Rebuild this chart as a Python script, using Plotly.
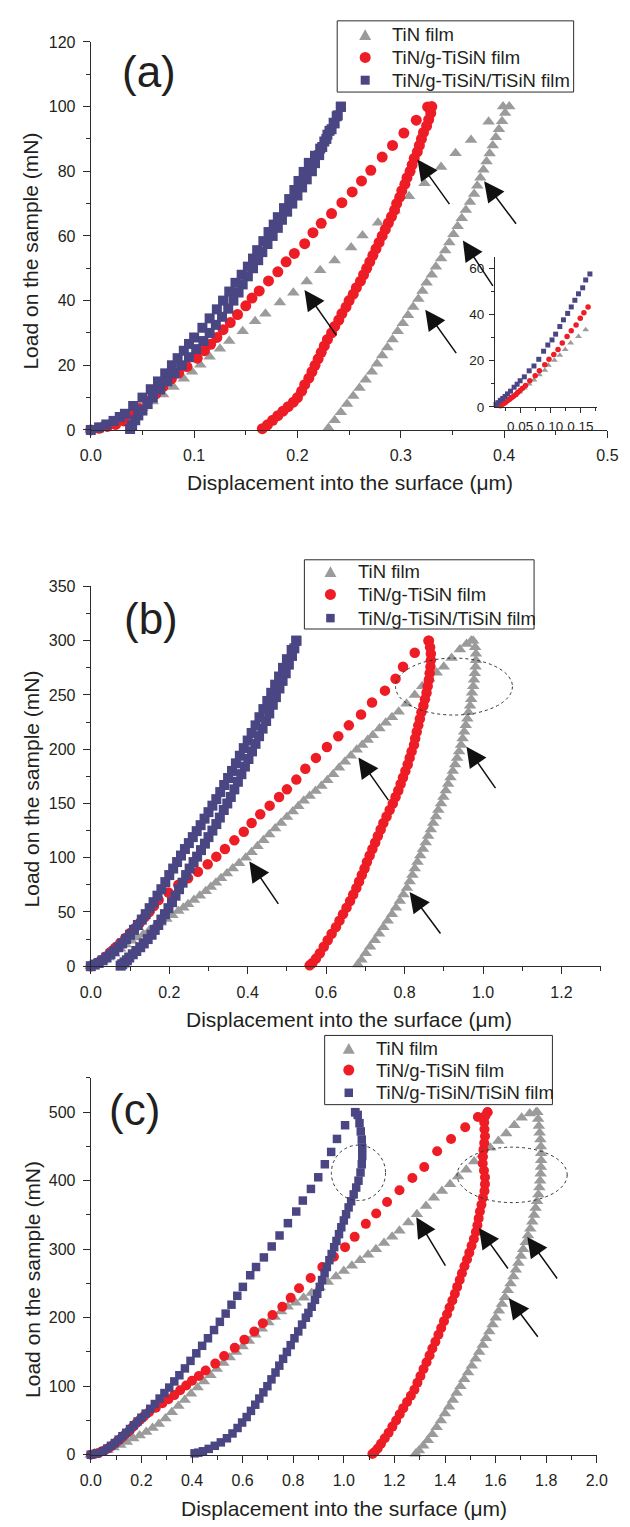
import plotly.graph_objects as go

# ---------------------------------------------------------------
# Load–displacement data (displacement in µm, load in mN)
# ---------------------------------------------------------------

# (a) 100 mN
A_TIN_LOAD = [(0.000, 0.0), (0.010, 1.0), (0.020, 2.2), (0.030, 3.6), (0.040, 5.1), (0.050, 6.8),
              (0.060, 8.8), (0.070, 11.0), (0.080, 13.3), (0.090, 15.8), (0.098, 18.0), (0.106, 20.2),
              (0.115, 22.6), (0.125, 25.1), (0.134, 27.5), (0.147, 30.5), (0.159, 33.6), (0.169, 35.9),
              (0.183, 39.4), (0.196, 42.4), (0.209, 45.9), (0.222, 49.4), (0.236, 52.4), (0.252, 56.4),
              (0.263, 60.1), (0.278, 64.1), (0.294, 67.8), (0.308, 72.3), (0.323, 76.3), (0.339, 81.3),
              (0.353, 85.6), (0.368, 89.7), (0.385, 95.3), (0.399, 100.0)]
A_TIN_UNLOAD = [(0.405, 100.0), (0.401, 98.0), (0.398, 95.5), (0.395, 93.0), (0.392, 90.5), (0.389, 88.0),
                (0.386, 85.5), (0.383, 83.0), (0.380, 80.5), (0.377, 78.0), (0.374, 75.5), (0.371, 73.0),
                (0.367, 70.5), (0.363, 68.0), (0.359, 65.5), (0.355, 63.0), (0.351, 60.5), (0.347, 58.0),
                (0.343, 55.5), (0.339, 53.0), (0.334, 50.5), (0.330, 48.0), (0.325, 45.5), (0.321, 43.0),
                (0.317, 40.5), (0.312, 38.0), (0.307, 35.5), (0.302, 33.0), (0.297, 30.5), (0.292, 28.0),
                (0.287, 25.5), (0.282, 23.0), (0.277, 20.5), (0.272, 18.0), (0.266, 15.5), (0.260, 13.0),
                (0.254, 10.5), (0.248, 8.0), (0.242, 5.5), (0.236, 3.0), (0.230, 0.6)]
A_RED_LOAD = [(0.000, 0.0), (0.008, 0.5), (0.016, 1.1), (0.024, 1.7), (0.032, 2.8), (0.040, 4.6),
              (0.047, 6.6), (0.055, 8.9), (0.063, 11.2), (0.070, 13.4), (0.078, 15.8), (0.085, 17.6),
              (0.093, 19.6), (0.103, 22.2), (0.110, 24.5), (0.116, 26.5), (0.122, 28.6), (0.128, 31.0),
              (0.135, 33.2), (0.142, 35.7), (0.150, 38.4), (0.156, 40.8), (0.163, 43.0), (0.172, 46.1),
              (0.181, 48.9), (0.189, 52.0), (0.197, 54.6), (0.207, 57.6), (0.215, 61.0), (0.223, 63.9),
              (0.233, 66.9), (0.243, 70.3), (0.253, 73.6), (0.262, 77.0), (0.271, 80.3), (0.282, 84.4),
              (0.292, 88.0), (0.303, 91.8), (0.315, 95.8), (0.326, 99.9)]
A_RED_UNLOAD = [(0.330, 100.0), (0.329, 98.0), (0.327, 96.0), (0.325, 94.0), (0.322, 92.0), (0.320, 90.0),
                (0.318, 88.0), (0.316, 86.0), (0.313, 84.0), (0.311, 82.0), (0.309, 80.0), (0.306, 78.0),
                (0.304, 76.0), (0.301, 74.0), (0.299, 72.0), (0.296, 70.0), (0.294, 68.0), (0.291, 66.0),
                (0.288, 64.0), (0.285, 62.0), (0.282, 60.0), (0.279, 58.0), (0.276, 56.0), (0.273, 54.0),
                (0.270, 52.0), (0.267, 50.0), (0.264, 48.0), (0.261, 46.0), (0.257, 44.0), (0.254, 42.0),
                (0.250, 40.0), (0.247, 38.0), (0.243, 36.0), (0.240, 34.0), (0.236, 32.0), (0.233, 30.0),
                (0.229, 28.0), (0.226, 26.0), (0.223, 24.0), (0.220, 22.0), (0.217, 20.0), (0.214, 18.0),
                (0.211, 16.0), (0.207, 14.0), (0.204, 12.0), (0.200, 10.0), (0.196, 8.6), (0.191, 7.2),
                (0.186, 5.8), (0.181, 4.4), (0.176, 3.0), (0.171, 1.6), (0.166, 0.4)]
A_BLUE_LOAD = [(0.000, 0.0), (0.008, 0.8), (0.015, 1.7), (0.022, 2.8), (0.028, 4.0), (0.033, 5.0),
               (0.041, 7.4), (0.050, 10.0), (0.058, 12.6), (0.065, 15.0), (0.072, 17.5), (0.0785, 20.0),
               (0.084, 22.2), (0.090, 24.5), (0.095, 26.6), (0.100, 28.6), (0.108, 31.6), (0.115, 34.5),
               (0.122, 37.3), (0.128, 40.0), (0.134, 42.8), (0.140, 45.5), (0.146, 48.0), (0.152, 50.5),
               (0.157, 53.0), (0.161, 55.6), (0.167, 58.4), (0.172, 61.2), (0.177, 63.5), (0.181, 65.8),
               (0.187, 68.6), (0.192, 71.4), (0.197, 74.2), (0.201, 77.0), (0.206, 79.8), (0.211, 82.6),
               (0.217, 84.8), (0.222, 87.0), (0.226, 89.2), (0.229, 91.3), (0.233, 93.0), (0.236, 94.8),
               (0.239, 97.3), (0.242, 99.9)]
A_BLUE_UNLOAD = [(0.242, 100.0), (0.238, 97.0), (0.235, 95.0), (0.231, 92.5), (0.228, 90.0), (0.224, 87.5),
                 (0.221, 85.0), (0.217, 82.5), (0.214, 80.0), (0.209, 77.5), (0.2045, 75.0), (0.200, 72.5),
                 (0.195, 70.0), (0.190, 67.5), (0.185, 65.0), (0.181, 62.5), (0.176, 60.0), (0.171, 57.5),
                 (0.166, 55.0), (0.162, 52.5), (0.157, 50.0), (0.152, 47.5), (0.147, 45.0), (0.143, 42.5),
                 (0.138, 40.0), (0.133, 37.5), (0.127, 35.0), (0.121, 32.5), (0.115, 30.0), (0.109, 27.5),
                 (0.102, 25.0), (0.095, 22.5), (0.088, 20.0), (0.081, 17.5), (0.074, 15.0), (0.067, 12.5),
                 (0.060, 10.0), (0.055, 8.0), (0.050, 6.0), (0.046, 4.5), (0.043, 3.0), (0.040, 1.5),
                 (0.038, 0.3)]

# (a) inset: initial part of the loading curves
INSET_TIN = [(0.017, 1.1), (0.025, 2.1), (0.033, 3.6), (0.041, 5.0), (0.049, 6.4), (0.057, 8.2),
             (0.065, 9.9), (0.073, 11.6), (0.082, 13.9), (0.091, 15.9), (0.097, 18.0), (0.107, 20.2),
             (0.116, 22.4), (0.125, 24.9), (0.134, 27.7), (0.147, 30.5), (0.159, 33.4)]
INSET_RED = [(0.017, 0.5), (0.020, 1.0), (0.023, 1.4), (0.026, 2.0), (0.030, 2.8), (0.033, 3.4),
             (0.036, 4.0), (0.039, 4.6), (0.043, 5.3), (0.046, 6.2), (0.050, 7.1), (0.054, 8.1),
             (0.059, 9.2), (0.066, 11.3), (0.075, 13.5), (0.082, 15.6), (0.091, 18.2), (0.098, 20.6),
             (0.106, 22.7), (0.113, 24.9), (0.120, 27.7), (0.128, 30.5), (0.135, 33.0), (0.143, 35.5),
             (0.150, 38.4), (0.156, 40.8), (0.163, 43.3)]
INSET_BLUE = [(0.010, 1.0), (0.013, 1.8), (0.017, 2.8), (0.021, 3.6), (0.025, 4.5), (0.029, 5.6),
              (0.034, 6.8), (0.040, 8.5), (0.045, 9.8), (0.050, 11.3), (0.057, 13.0), (0.065, 15.6),
              (0.073, 17.7), (0.081, 20.6), (0.089, 24.1), (0.096, 26.8), (0.103, 29.0), (0.109, 31.5),
              (0.116, 34.8), (0.122, 37.7), (0.129, 40.5), (0.135, 43.3), (0.141, 46.2), (0.147, 49.0),
              (0.154, 51.6), (0.159, 55.0), (0.166, 57.6)]

# (b) 300 mN
B_TIN_LOAD = [(0.000, 0.0), (0.015, 2.5), (0.030, 5.0), (0.045, 8.0), (0.060, 11.5), (0.075, 16.0),
              (0.089, 20.0), (0.104, 23.5), (0.119, 26.5), (0.134, 29.5), (0.149, 33.0), (0.163, 36.5),
              (0.178, 40.0), (0.193, 43.5), (0.208, 47.0), (0.223, 51.0), (0.236, 54.0), (0.248, 57.0),
              (0.263, 61.0), (0.278, 65.0), (0.293, 69.0), (0.306, 73.0), (0.319, 77.0), (0.332, 81.0),
              (0.347, 85.5), (0.362, 90.0), (0.378, 95.0), (0.395, 100.0), (0.410, 105.0), (0.425, 110.5),
              (0.440, 116.0), (0.455, 121.5), (0.470, 127.0), (0.485, 132.0), (0.500, 137.5), (0.515, 142.5),
              (0.529, 147.5), (0.543, 152.5), (0.558, 157.0), (0.573, 161.5), (0.588, 166.0), (0.603, 171.5),
              (0.618, 177.0), (0.633, 183.0), (0.648, 188.5), (0.663, 194.0), (0.678, 199.6), (0.692, 204.0),
              (0.706, 208.5), (0.719, 213.0), (0.736, 219.0), (0.752, 224.5), (0.768, 229.5), (0.785, 234.5),
              (0.805, 242.0), (0.826, 250.0), (0.845, 258.0), (0.863, 265.0), (0.882, 270.5), (0.900, 276.0),
              (0.920, 284.0), (0.941, 292.0), (0.958, 297.0), (0.970, 300.0)]
B_TIN_UNLOAD = [(0.975, 300.0), (0.980, 294.0), (0.982, 288.0), (0.982, 282.0), (0.981, 276.0), (0.979, 270.0),
                (0.977, 264.0), (0.975, 258.0), (0.972, 252.0), (0.970, 246.0), (0.967, 240.0), (0.963, 234.0),
                (0.960, 228.0), (0.956, 222.0), (0.952, 216.0), (0.948, 210.0), (0.944, 204.0), (0.939, 198.0),
                (0.934, 192.0), (0.929, 186.0), (0.923, 180.0), (0.917, 174.0), (0.911, 168.0), (0.905, 162.0),
                (0.899, 156.0), (0.893, 150.0), (0.886, 144.0), (0.880, 138.0), (0.873, 132.0), (0.867, 126.0),
                (0.860, 120.0), (0.854, 114.0), (0.847, 108.0), (0.840, 102.0), (0.833, 96.0), (0.826, 90.0),
                (0.820, 84.0), (0.813, 78.0), (0.806, 72.0), (0.797, 66.0), (0.788, 60.0), (0.778, 54.0),
                (0.768, 48.0), (0.757, 42.0), (0.746, 36.0), (0.735, 30.0), (0.724, 24.0), (0.712, 18.0),
                (0.701, 12.0), (0.690, 6.0), (0.681, 1.5)]
B_RED_LOAD = [(0.000, 0.0), (0.012, 2.0), (0.025, 5.0), (0.038, 9.0), (0.050, 13.0), (0.062, 17.0),
              (0.075, 21.5), (0.088, 26.0), (0.100, 30.5), (0.112, 35.0), (0.125, 40.0), (0.137, 45.0),
              (0.149, 50.0), (0.161, 55.5), (0.173, 61.0), (0.198, 68.0), (0.223, 75.0), (0.248, 81.0),
              (0.273, 87.0), (0.298, 94.0), (0.320, 101.0), (0.342, 108.0), (0.366, 116.0), (0.390, 124.0),
              (0.410, 132.0), (0.432, 140.0), (0.456, 148.0), (0.480, 156.0), (0.500, 163.0), (0.524, 172.0),
              (0.547, 182.0), (0.574, 192.0), (0.602, 202.0), (0.631, 212.0), (0.658, 222.0), (0.689, 232.0),
              (0.717, 243.0), (0.750, 254.0), (0.777, 265.0), (0.796, 276.0), (0.826, 289.0), (0.861, 300.0)]
B_RED_UNLOAD = [(0.862, 300.0), (0.865, 294.0), (0.867, 288.0), (0.867, 282.0), (0.866, 276.0), (0.864, 270.0),
                (0.862, 264.0), (0.859, 258.0), (0.856, 252.0), (0.852, 246.0), (0.848, 240.0), (0.843, 234.0),
                (0.839, 228.0), (0.835, 222.0), (0.831, 216.0), (0.827, 210.0), (0.824, 204.0), (0.818, 198.0),
                (0.813, 192.0), (0.808, 186.0), (0.802, 180.0), (0.796, 174.0), (0.790, 168.0), (0.784, 162.0),
                (0.777, 156.0), (0.770, 150.0), (0.762, 144.0), (0.754, 138.0), (0.746, 132.0), (0.739, 126.0),
                (0.732, 120.0), (0.725, 114.0), (0.718, 108.0), (0.711, 102.0), (0.704, 96.0), (0.698, 90.0),
                (0.691, 84.0), (0.684, 78.0), (0.677, 72.0), (0.669, 66.0), (0.661, 60.0), (0.652, 54.0),
                (0.643, 48.0), (0.634, 42.0), (0.625, 36.0), (0.614, 30.0), (0.604, 24.0), (0.594, 18.0),
                (0.584, 12.0), (0.574, 7.0), (0.565, 3.0), (0.558, 0.8)]
B_BLUE_LOAD = [(0.000, 0.0), (0.010, 1.5), (0.020, 3.0), (0.030, 5.5), (0.040, 8.0), (0.050, 11.0),
               (0.060, 14.0), (0.070, 17.5), (0.080, 21.0), (0.090, 25.0), (0.100, 29.0), (0.110, 33.5),
               (0.120, 38.0), (0.130, 43.0), (0.140, 48.0), (0.150, 53.5), (0.160, 59.0), (0.170, 65.0),
               (0.180, 71.0), (0.190, 77.5), (0.200, 84.0), (0.210, 90.0), (0.220, 96.0), (0.230, 102.0),
               (0.240, 108.0), (0.250, 113.5), (0.260, 119.0), (0.270, 124.5), (0.280, 130.0), (0.290, 136.0),
               (0.300, 142.0), (0.310, 148.0), (0.320, 154.0), (0.330, 160.5), (0.340, 167.0), (0.350, 173.5),
               (0.360, 180.0), (0.370, 187.0), (0.380, 194.0), (0.390, 201.0), (0.400, 208.0), (0.410, 215.0),
               (0.420, 222.0), (0.430, 229.5), (0.440, 237.0), (0.450, 244.5), (0.460, 252.0), (0.470, 259.5),
               (0.480, 267.0), (0.490, 275.0), (0.500, 283.0), (0.512, 291.5), (0.524, 300.0)]
B_BLUE_UNLOAD = [(0.524, 300.0), (0.519, 293.0), (0.513, 286.0), (0.505, 278.0), (0.497, 270.0), (0.489, 263.0),
                 (0.481, 256.0), (0.472, 248.0), (0.464, 241.0), (0.455, 233.0), (0.447, 226.0), (0.438, 219.0),
                 (0.429, 212.0), (0.420, 205.0), (0.411, 198.0), (0.402, 191.0), (0.393, 184.0), (0.384, 177.0),
                 (0.375, 170.0), (0.366, 163.0), (0.357, 156.0), (0.348, 150.0), (0.339, 144.0), (0.329, 137.0),
                 (0.320, 131.0), (0.310, 125.0), (0.300, 119.0), (0.291, 113.0), (0.281, 107.0), (0.271, 101.0),
                 (0.262, 96.0), (0.252, 90.0), (0.243, 84.0), (0.234, 77.0), (0.225, 71.0), (0.216, 65.0),
                 (0.207, 59.0), (0.198, 53.5), (0.189, 48.0), (0.180, 43.0), (0.172, 38.0), (0.163, 33.5),
                 (0.155, 29.0), (0.145, 25.0), (0.135, 21.0), (0.126, 17.5), (0.116, 14.0), (0.107, 11.0),
                 (0.098, 8.0), (0.092, 5.5), (0.086, 3.5), (0.080, 1.8), (0.076, 0.5)]

# (c) 500 mN
C_TIN_LOAD = [(0.000, 0.0), (0.015, 2.0), (0.040, 4.0), (0.066, 7.0), (0.090, 10.5), (0.117, 14.0),
              (0.142, 18.5), (0.168, 23.5), (0.193, 28.0), (0.219, 33.0), (0.244, 39.0), (0.269, 45.0),
              (0.295, 53.0), (0.320, 62.0), (0.346, 71.0), (0.371, 80.0), (0.396, 89.0), (0.422, 98.0),
              (0.447, 107.0), (0.473, 116.0), (0.498, 125.0), (0.524, 134.0), (0.549, 142.0), (0.574, 150.0),
              (0.600, 158.0), (0.625, 166.0), (0.650, 175.0), (0.676, 184.0), (0.702, 193.0), (0.727, 201.0),
              (0.752, 209.0), (0.778, 216.0), (0.810, 222.0), (0.841, 229.0), (0.873, 236.0), (0.905, 244.0),
              (0.937, 252.0), (0.969, 260.0), (1.000, 268.0), (1.032, 276.0), (1.064, 284.0), (1.096, 292.0),
              (1.127, 300.0), (1.159, 309.0), (1.191, 318.0), (1.220, 327.0), (1.255, 339.0), (1.289, 351.0),
              (1.325, 363.0), (1.356, 375.0), (1.388, 385.0), (1.420, 395.0), (1.452, 406.0), (1.484, 416.0),
              (1.515, 428.0), (1.547, 438.0), (1.579, 448.0), (1.611, 458.0), (1.642, 469.0), (1.674, 481.0),
              (1.703, 492.0), (1.735, 498.0), (1.760, 500.0)]
C_TIN_UNLOAD = [(1.765, 500.0), (1.768, 490.0), (1.771, 480.0), (1.774, 470.0), (1.777, 460.0), (1.779, 450.0),
                (1.780, 440.0), (1.780, 430.0), (1.779, 420.0), (1.778, 410.0), (1.776, 400.0), (1.773, 390.0),
                (1.769, 380.0), (1.764, 370.0), (1.758, 360.0), (1.752, 350.0), (1.745, 340.0), (1.737, 330.0),
                (1.728, 320.0), (1.719, 310.0), (1.709, 300.0), (1.700, 290.0), (1.690, 280.0), (1.680, 270.0),
                (1.670, 260.0), (1.659, 250.0), (1.648, 240.0), (1.637, 230.0), (1.625, 220.0), (1.613, 210.0),
                (1.600, 200.0), (1.588, 190.0), (1.575, 180.0), (1.562, 170.0), (1.549, 160.0), (1.535, 150.0),
                (1.521, 140.0), (1.506, 130.0), (1.491, 120.0), (1.476, 110.0), (1.461, 100.0), (1.446, 90.0),
                (1.431, 80.0), (1.416, 70.0), (1.400, 60.0), (1.384, 50.0), (1.367, 40.0), (1.350, 30.0),
                (1.332, 21.0), (1.314, 13.0), (1.297, 6.0), (1.284, 1.5)]
C_RED_LOAD = [(0.000, 0.0), (0.015, 1.0), (0.030, 2.5), (0.045, 5.0), (0.060, 7.5), (0.075, 11.0),
              (0.090, 15.0), (0.105, 19.5), (0.120, 24.0), (0.135, 29.0), (0.150, 34.0), (0.165, 40.0),
              (0.180, 46.0), (0.195, 51.0), (0.210, 56.0), (0.230, 62.0), (0.257, 68.5), (0.283, 75.0),
              (0.307, 81.0), (0.330, 87.0), (0.353, 94.0), (0.377, 101.0), (0.400, 108.0), (0.427, 115.0),
              (0.454, 123.0), (0.492, 133.0), (0.527, 144.0), (0.569, 156.0), (0.607, 168.0), (0.646, 180.0),
              (0.680, 192.0), (0.718, 204.0), (0.757, 216.0), (0.790, 229.0), (0.823, 243.0), (0.869, 258.0),
              (0.915, 274.0), (0.961, 289.0), (1.005, 303.0), (1.043, 318.0), (1.087, 337.0), (1.128, 352.0),
              (1.171, 369.0), (1.220, 386.0), (1.271, 404.0), (1.318, 420.0), (1.369, 443.0), (1.424, 461.0),
              (1.480, 478.0), (1.530, 493.0), (1.568, 500.0)]
C_RED_UNLOAD = [(1.568, 500.0), (1.560, 495.0), (1.555, 485.0), (1.556, 475.0), (1.558, 465.0), (1.555, 455.0),
                (1.552, 445.0), (1.550, 435.0), (1.549, 425.0), (1.554, 415.0), (1.558, 405.0), (1.558, 395.0),
                (1.556, 385.0), (1.550, 375.0), (1.544, 365.0), (1.538, 355.0), (1.533, 345.0), (1.528, 335.0),
                (1.522, 325.0), (1.514, 315.0), (1.505, 305.0), (1.496, 295.0), (1.487, 285.0), (1.477, 275.0),
                (1.467, 265.0), (1.458, 255.0), (1.448, 245.0), (1.439, 235.0), (1.429, 225.0), (1.418, 215.0),
                (1.408, 205.0), (1.396, 195.0), (1.385, 185.0), (1.374, 175.0), (1.362, 165.0), (1.350, 155.0),
                (1.339, 145.0), (1.327, 135.0), (1.315, 125.0), (1.303, 115.0), (1.291, 105.0), (1.279, 95.0),
                (1.265, 86.0), (1.250, 77.0), (1.235, 68.0), (1.221, 59.0), (1.207, 50.0), (1.192, 41.0),
                (1.177, 32.0), (1.162, 24.0), (1.147, 16.0), (1.134, 9.0), (1.122, 4.0), (1.113, 1.0)]
C_BLUE_LOAD = [(0.000, 0.0), (0.025, 2.0), (0.048, 5.0), (0.065, 9.0), (0.080, 13.0), (0.095, 17.0),
               (0.110, 22.0), (0.125, 27.0), (0.140, 32.0), (0.155, 37.5), (0.170, 43.0), (0.185, 48.5),
               (0.200, 54.0), (0.217, 60.0), (0.235, 67.0), (0.253, 74.0), (0.272, 82.0), (0.291, 90.0),
               (0.310, 98.0), (0.330, 107.0), (0.350, 116.0), (0.372, 126.0), (0.394, 137.0), (0.417, 148.0),
               (0.440, 159.0), (0.463, 170.0), (0.487, 182.0), (0.510, 194.0), (0.533, 206.0), (0.556, 219.0),
               (0.579, 232.0), (0.601, 245.0), (0.630, 262.0), (0.653, 274.0), (0.684, 288.0), (0.715, 304.0),
               (0.746, 320.0), (0.779, 338.0), (0.812, 355.0), (0.838, 371.0), (0.870, 388.0), (0.899, 405.0),
               (0.925, 424.0), (0.950, 442.0), (0.973, 461.0), (1.005, 481.0), (1.045, 500.0)]
C_BLUE_UNLOAD = [(1.045, 500.0), (1.055, 496.0), (1.062, 484.0), (1.067, 472.0), (1.071, 460.0), (1.073, 448.0),
                 (1.073, 436.0), (1.071, 424.0), (1.066, 412.0), (1.058, 400.0), (1.049, 390.0), (1.039, 380.0),
                 (1.029, 370.0), (1.019, 361.0), (1.009, 351.0), (1.000, 342.0), (0.990, 332.0), (0.981, 322.0),
                 (0.971, 312.0), (0.962, 303.0), (0.952, 293.0), (0.943, 284.0), (0.933, 274.0), (0.924, 265.0),
                 (0.914, 255.0), (0.905, 245.0), (0.895, 235.0), (0.886, 226.0), (0.873, 216.0), (0.860, 207.0),
                 (0.850, 200.0), (0.835, 190.0), (0.820, 180.0), (0.805, 170.0), (0.790, 160.0), (0.775, 150.0),
                 (0.760, 140.0), (0.745, 130.0), (0.730, 120.0), (0.714, 110.0), (0.698, 100.0), (0.682, 91.0),
                 (0.666, 82.0), (0.650, 73.0), (0.633, 64.0), (0.616, 55.0), (0.598, 47.0), (0.580, 39.0),
                 (0.560, 31.0), (0.538, 24.0), (0.514, 18.0), (0.490, 13.0), (0.466, 8.5), (0.443, 5.0),
                 (0.425, 3.0), (0.410, 2.0)]

SERIES_NAMES = ["TiN film", "TiN/g-TiSiN film", "TiN/g-TiSiN/TiSiN film"]
PANEL_LABELS = ["(a)", "(b)", "(c)"]
X_TITLE = "Displacement into the surface (μm)"
Y_TITLE = "Load on the sample (mN)"

# ---------------------------------------------------------------
# Styling
# ---------------------------------------------------------------
W, H = 630, 1527
FONT = "Liberation Sans, Arial, sans-serif"
TXT = "#231f20"
AX = "#2b2b2b"
GRAY, RED, NAVY = "#9b9b9b", "#ee1c25", "#4a4683"
SYMBOLS = ["triangle-up", "circle", "square"]
COLORS = [GRAY, RED, NAVY]


def fx(px):
    return px / W


def fy(py):
    return 1 - py / H


def xs(pts):
    return [p[0] for p in pts]


def ys(pts):
    return [p[1] for p in pts]


fig = go.Figure()

panels = [
    # axis suffix, data, marker sizes (triangle, circle, square)
    ("", (A_TIN_LOAD, A_TIN_UNLOAD, A_RED_LOAD, A_RED_UNLOAD, A_BLUE_LOAD, A_BLUE_UNLOAD), (11, 11, 10)),
    ("2", (B_TIN_LOAD, B_TIN_UNLOAD, B_RED_LOAD, B_RED_UNLOAD, B_BLUE_LOAD, B_BLUE_UNLOAD), (11, 10.5, 10)),
    ("3", (C_TIN_LOAD, C_TIN_UNLOAD, C_RED_LOAD, C_RED_UNLOAD, C_BLUE_LOAD, C_BLUE_UNLOAD), (11, 10, 8.5)),
]

for suffix, d, sizes in panels:
    for i in range(3):
        pts = d[2 * i] + d[2 * i + 1]
        fig.add_trace(go.Scatter(
            x=xs(pts), y=ys(pts), mode="markers", name=SERIES_NAMES[i], showlegend=False,
            marker=dict(symbol=SYMBOLS[i], size=sizes[i], color=COLORS[i], line=dict(width=0)),
            xaxis="x" + suffix, yaxis="y" + suffix, cliponaxis=False,
        ))

# inset of panel (a)
for i, (pts, sz) in enumerate([(INSET_TIN, 6), (INSET_RED, 5.5), (INSET_BLUE, 5)]):
    fig.add_trace(go.Scatter(
        x=xs(pts), y=ys(pts), mode="markers", name=SERIES_NAMES[i], showlegend=False,
        marker=dict(symbol=SYMBOLS[i], size=sz, color=COLORS[i], line=dict(width=0)),
        xaxis="x4", yaxis="y4", cliponaxis=False,
    ))


def axis(domain, rng, dtick, minor, fmt=None, size=16, anchor=None, standoff=4, ticklen=7, minorlen=4):
    a = dict(domain=domain, range=rng, showline=True, linecolor=AX, linewidth=1.2,
             ticks="outside", ticklen=ticklen, tickwidth=1.2, tickcolor=AX, dtick=dtick, tick0=0,
             minor=dict(ticks="outside", ticklen=minorlen, tickwidth=1.2, tickcolor=AX, dtick=minor, tick0=0),
             showgrid=False, zeroline=False, tickfont=dict(family=FONT, size=size, color=TXT),
             ticklabelstandoff=standoff, anchor=anchor, fixedrange=True)
    if fmt:
        a["tickformat"] = fmt
    return a


X0 = fx(82.7)
fig.update_layout(
    xaxis=axis([X0, fx(618)], [0, 0.5], 0.1, 0.05, ".1f", anchor="y"),
    yaxis=axis([fy(426.7), fy(34.3)], [0, 120], 20, 10, anchor="x"),
    xaxis2=axis([X0, fx(611)], [0, 1.3], 0.2, 0.1, ".1f", anchor="y2"),
    yaxis2=axis([fy(969), fy(585)], [0, 350], 50, 25, anchor="x2"),
    xaxis3=axis([X0, fx(607)], [0, 2.0], 0.2, 0.1, ".1f", anchor="y3"),
    yaxis3=axis([fy(1463), fy(1082)], [0, 550], 100, 50, anchor="x3"),
    xaxis4=axis([fx(501.7), fx(606.7)], [0.0085, 0.177], 0.05, 0.025, ".2f", size=13.5, anchor="y4",
                standoff=2, ticklen=5, minorlen=3),
    yaxis4=axis([fy(403.3), fy(251.7)], [0, 65], 20, 10, size=13.5, anchor="x4",
                standoff=2, ticklen=5, minorlen=3),
)

shapes = []
ann = []

# legend boxes: (box left, top, right, bottom, symbol x, text x, entry rows, glyph sizes)
LEGENDS = [
    (338, 13, 583, 85, 367, 393, (27, 50, 73), (12, 11, 9)),
    (304, 558, 542, 628, 331, 357, (570, 593, 617), (12, 11, 8.5)),
    (325, 1039, 561, 1109, 350, 376, (1052, 1074, 1097), (12, 11, 8.5)),
]
for x0, y0, x1, y1, mx, tx, rows, gs in LEGENDS:
    shapes.append(dict(type="rect", xref="paper", yref="paper", x0=fx(x0), x1=fx(x1), y0=fy(y1), y1=fy(y0),
                       line=dict(color=AX, width=1), fillcolor="rgba(0,0,0,0)", layer="above"))
    for i, ry in enumerate(rows):
        r = gs[i] / 2
        base = dict(xref="paper", yref="paper", xsizemode="pixel", ysizemode="pixel",
                    xanchor=fx(mx), yanchor=fy(ry), fillcolor=COLORS[i], line=dict(width=0), layer="above")
        if SYMBOLS[i] == "circle":
            shapes.append(dict(type="circle", x0=-r, x1=r, y0=-r, y1=r, **base))
        elif SYMBOLS[i] == "square":
            shapes.append(dict(type="rect", x0=-r, x1=r, y0=-r, y1=r, **base))
        else:
            h = r * 0.9
            shapes.append(dict(type="path", path=f"M{-r},{-h} L{r},{-h} L0,{h} Z", **base))
        ann.append(dict(text=SERIES_NAMES[i], x=fx(tx), y=fy(ry), xref="paper", yref="paper",
                        showarrow=False, xanchor="left", yanchor="middle",
                        font=dict(family=FONT, size=18.5, color=TXT)))

# panel letters
for lab, (px, py) in zip(PANEL_LABELS, [(143, 64), (145, 617), (128, 1114)]):
    ann.append(dict(text=lab, x=fx(px), y=fy(py), xref="paper", yref="paper", showarrow=False,
                    xanchor="center", yanchor="middle", font=dict(family=FONT, size=44, color=TXT)))
# axis titles
for px, py in [(351, 480), (350, 1023), (345, 1517)]:
    ann.append(dict(text=X_TITLE, x=fx(px), y=fy(py), xref="paper", yref="paper", showarrow=False,
                    xanchor="center", yanchor="middle", font=dict(family=FONT, size=21, color=TXT)))
for px, py in [(20, 246), (21, 790), (22, 1286)]:
    ann.append(dict(text=Y_TITLE, x=fx(px), y=fy(py), xref="paper", yref="paper", showarrow=False,
                    textangle=-90, xanchor="center", yanchor="middle",
                    font=dict(family=FONT, size=21, color=TXT)))

# arrows pointing at pop-in events: (axis suffix, x, y, tail offset in px)
ARROWS = [
    ("", 0.3162, 83.6, 33, 46), ("", 0.3807, 76.9, 33, 44), ("", 0.3601, 58.6, 31, 47),
    ("", 0.2068, 43.3, 33, 47), ("", 0.3237, 37.2, 32, 45),
    ("2", 0.6823, 192.3, 31, 44), ("2", 0.958, 202.4, 30, 43), ("2", 0.4043, 96.6, 30, 44),
    ("2", 0.8128, 68.4, 32, 43),
    ("3", 1.2864, 346.8, 30, 50), ("3", 1.5343, 330.9, 30, 42), ("3", 1.7250, 317.9, 31, 43),
    ("3", 1.6526, 228.3, 30, 40),
]
for s, x, y, dx, dy in ARROWS:
    ann.append(dict(x=x, y=y, xref="x" + s, yref="y" + s, ax=dx, ay=dy, text="", showarrow=True,
                    arrowhead=2, arrowsize=2.7, arrowwidth=1.5, arrowcolor="#111111", standoff=0))

# dotted ellipses marking the unloading anomalies
ELLIPSES = [("2", 0.777, 1.075, 231.5, 284.0), ("3", 0.951, 1.165, 371.0, 452.0), ("3", 1.448, 1.883, 368.0, 449.0)]
for s, x0, x1, y0, y1 in ELLIPSES:
    shapes.append(dict(type="circle", xref="x" + s, yref="y" + s, x0=x0, x1=x1, y0=y0, y1=y1,
                       line=dict(color="#333333", width=1, dash="dot")))

fig.update_layout(annotations=ann, shapes=shapes)
fig.update_layout(width=W, height=H, autosize=False, margin=dict(l=0, r=0, t=0, b=0),
                  paper_bgcolor="white", plot_bgcolor="rgba(0,0,0,0)", showlegend=False,
                  font=dict(family=FONT, color=TXT))

fig.write_html("out.html")
